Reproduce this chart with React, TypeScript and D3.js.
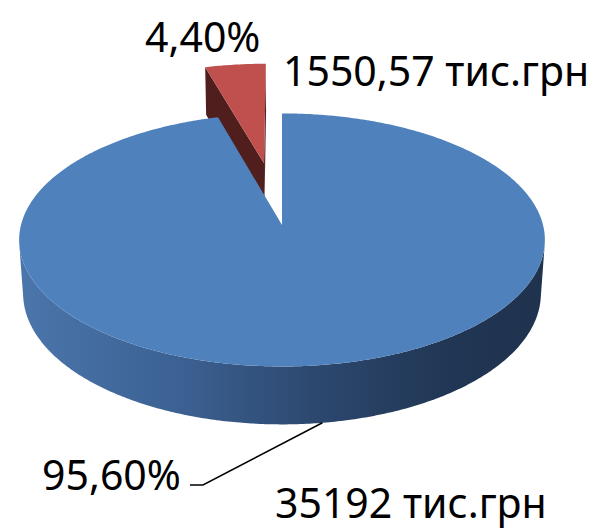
import * as d3 from 'd3';

// slice values (percent of total), blue first, red (exploded) second
const shares = [95.6, 4.4];
const percentLabels = ['95,60%', '4,40%'];
const amountLabels = ['35192 тис.грн', '1550,57 тис.грн'];
const explodeBy = [0, 0.53];

const COLOR_TOP = ['#4f81bd', '#c0504d'];
const COLOR_EDGE = ['#2c4668', '#4f1e1d'];

const W = 596;
const H = 529;

// simple perspective camera for the 3D pie
const CX = 282;
const CY = 225;
const FOCAL = 1942;
const DIST = 7.44;
const SIN_E = 0.478;
const COS_E = Math.sqrt(1 - SIN_E * SIN_E);
const DEPTH = 0.236;
const CAM_Z = DIST * COS_E;

function project(X: number, Y: number, Z: number): [number, number] {
  const u = Y * COS_E - Z * SIN_E;
  const d = Y * SIN_E + Z * COS_E;
  const s = FOCAL / (DIST - d);
  return [CX + X * s, CY - u * s];
}

const line = d3.line();

function rim(ox: number, oz: number, a: number, y: number) {
  return project(ox + Math.sin(a), y, oz - Math.cos(a));
}

export default function App() {
  const arcs = d3.pie<number>().sort(null)(shares);

  const slices = arcs.map((a, i) => {
    const mid = (a.startAngle + a.endAngle) / 2;
    const ox = explodeBy[i] * Math.sin(mid);
    const oz = -explodeBy[i] * Math.cos(mid);
    const steps = Math.max(4, Math.ceil((a.endAngle - a.startAngle) / 0.01));
    const angles = d3.range(steps + 1).map(k => a.startAngle + (a.endAngle - a.startAngle) * k / steps);

    const top = line([project(ox, 0, oz), ...angles.map(t => rim(ox, oz, t, 0))]) + 'Z';

    // radial faces that look toward the camera
    const faces: string[] = [];
    [[a.startAngle, -1], [a.endAngle, 1]].forEach(([t, sign]) => {
      const nx = sign * Math.cos(t);
      const nz = sign * Math.sin(t);
      if (nx * (0 - ox) + nz * (CAM_Z - oz) > 0.05) {
        faces.push(line([
          project(ox, 0, oz), rim(ox, oz, t, 0),
          rim(ox, oz, t, -DEPTH), project(ox, -DEPTH, oz)
        ]) + 'Z');
      }
    });

    // visible part of the outer wall
    const walls: string[] = [];
    let run: number[] = [];
    const flush = () => {
      if (run.length > 1) {
        const upper = run.map(t => rim(ox, oz, t, 0));
        const lower = run.slice().reverse().map(t => rim(ox, oz, t, -DEPTH));
        walls.push(line([...upper, ...lower]) + 'Z');
      }
      run = [];
    };
    angles.forEach(t => {
      const px = ox + Math.sin(t);
      const pz = oz - Math.cos(t);
      const vis = Math.sin(t) * (0 - px) + -Math.cos(t) * (CAM_Z - pz) > 0;
      if (vis) run.push(t); else flush();
    });
    flush();

    return { i, top, faces, walls };
  });

  // draw back slice (red) first
  const order = [1, 0];

  const font = '"Noto Sans", "Open Sans", sans-serif';
  const [bx, by] = rim(0, 0, (172 * Math.PI) / 180, -DEPTH);

  return (
    <svg width={W} height={H} style={{ position: 'absolute', left: 0, top: 0, background: '#fff' }}>
      <defs>
        <linearGradient id="wall" gradientUnits="userSpaceOnUse" x1={20} x2={545} y1={0} y2={0}>
          <stop offset="0" stopColor="#4b76ab" />
          <stop offset="0.3" stopColor="#3c6193" />
          <stop offset="0.55" stopColor="#2d4970" />
          <stop offset="0.8" stopColor="#213755" />
          <stop offset="1" stopColor="#1f324e" />
        </linearGradient>
      </defs>
      {order.map(k => {
        const s = slices[k];
        return (
          <g key={k}>
            {s.walls.map((p, j) => <path key={'w' + j} d={p} fill="url(#wall)" />)}
            {s.faces.map((p, j) => <path key={'f' + j} d={p} fill={COLOR_EDGE[k]} />)}
            <path d={s.top} fill={COLOR_TOP[k]} />
          </g>
        );
      })}

      {/* leader line for the big slice */}
      <polyline points={`190,485 203,485 ${bx},${by}`} fill="none" stroke="#000" strokeWidth={1.5} />

      <g fontFamily={font} fontSize={41} fill="#000">
        <text x={145} y={52}>{percentLabels[1]}</text>
        <text x={283} y={86}>{amountLabels[1]}</text>
        <text x={42} y={490}>{percentLabels[0]}</text>
        <text x={275} y={518}>{amountLabels[0]}</text>
      </g>
    </svg>
  );
}
